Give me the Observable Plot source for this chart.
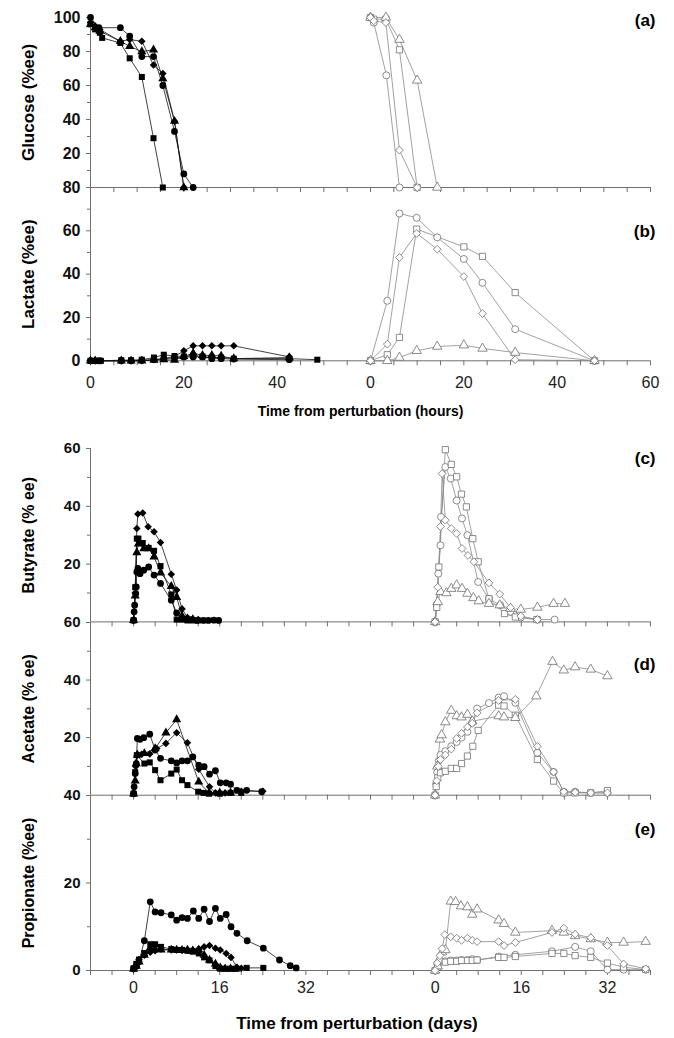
<!DOCTYPE html>
<html><head><meta charset="utf-8">
<script src="https://cdn.jsdelivr.net/npm/d3@7"></script>
<script src="https://cdn.jsdelivr.net/npm/@observablehq/plot@0.6"></script>
<style>
body{margin:0;background:#fff;}
#wrap{position:relative;width:674px;height:1038px;}
</style></head><body><div id="wrap"></div>
<script>
// ---------- DATA: [time, value] ----------
// Glucose (a), hours — left (filled) and right (open) groups
const gluL_circ = [[0,100],[1.8,94],[6.4,94],[8.4,89],[11,77],[13.5,77],[15.5,60],[18,33],[20,8],[22,0]];
const gluL_sq   = [[0,96],[1,93],[2,91],[2.5,88],[6.4,85],[8.4,76],[11,65],[13.5,29],[15.5,0]];
const gluL_tri  = [[0,96],[1,94],[2,92],[6.4,86],[8.4,83],[11,80],[13.5,81],[15.5,64],[18,39],[20,0]];
const gluL_dia  = [[0,97],[1,95],[2,93],[6.4,86],[8.4,87],[11,86],[13.5,72],[15.5,67],[18,39],[20,0]];
const gluR_circ = [[0,100],[0.7,97],[3.4,66],[6.2,0]];
const gluR_sq   = [[0,100],[0.7,99],[3.3,99],[6.2,81],[10,0]];
const gluR_tri  = [[0,100],[3.3,100],[6.2,87],[10,63],[14.3,0]];
const gluR_dia  = [[0,100],[0.7,98],[3.3,97],[6.2,22],[10,0]];
// Lactate (b), hours
const lacL_circ = [[0,0],[1,0],[1.8,0],[2.2,0],[6.6,0],[8.7,0],[11,0.3],[13.6,0.5],[15.7,1],[18,1.3],[20,1.8],[22,1.8],[24,1.8],[26,1],[28,1],[30.7,0.8],[42.6,0.5]];
const lacL_sq   = [[0,0],[1,0],[1.8,0],[2.2,0],[6.6,0.3],[8.7,0.3],[11,0.5],[13.6,1.5],[15.7,2.8],[18,2.2],[20,2],[22,2.3],[24,2],[26,1.5],[28,1.5],[30.7,1],[42.6,1],[48.6,0.5]];
const lacL_tri  = [[0,0],[1,0],[6.6,0],[8.7,0],[11,0],[13.6,0.3],[15.7,0.5],[18,0.3],[20,2],[22,3.5],[24,2.5],[26,2.5],[28,2.2],[30.7,1],[42.6,1.5]];
const lacL_dia  = [[0,0],[1,0],[6.6,0],[8.7,0],[11,0],[13.6,0.5],[15.7,1],[18,2],[20,4.6],[22,6.9],[24,6.9],[26,6.9],[28,6.9],[30.7,6.9],[42.6,1.8]];
const lacR_circ = [[0,0],[3.6,27.7],[6.2,68],[9.9,66],[14.3,57],[20,47],[24,36],[31,14.6],[48,0]];
const lacR_sq   = [[0,0],[3.6,2.8],[6.2,10.8],[9.9,60.8],[20,52.6],[24,48.2],[31,31.5],[48,0]];
const lacR_tri  = [[0,0],[3.6,0],[6.2,1.5],[9.9,4.6],[14.3,6.6],[20,7.2],[24,5.7],[31,3.8],[48,0]];
const lacR_dia  = [[0,0],[3.6,7.7],[6.2,47.7],[9.9,58.8],[14.3,51.5],[20,38.9],[24,21.8],[31,0.5],[48,0]];
// Butyrate (c), days
const butL_circ = [[0,0.6],[0.1,3.5],[0.2,5.8],[0.4,9.8],[0.5,12.1],[0.6,17.3],[0.8,18.5],[1.2,16.7],[1.9,17.9],[2.8,19],[3.8,16.2],[5,13.3],[7,7.5],[8,3.1],[9,1.2],[9.9,0.8],[10.8,0.8],[11.8,0.5],[13,0.5],[13.9,0.5],[14.9,0.6],[15.8,0.5]];
const butL_sq   = [[0,0.5],[0.3,12],[0.6,28.8],[0.9,28.8],[1.7,27.3],[2.8,25.6],[3.8,24.6],[5,19.3],[7,9.5],[8,0.8],[9,0.8],[10,0.5],[11,0.5],[12,0.5]];
const butL_tri  = [[0,0.5],[0.3,9],[0.6,24],[0.9,27],[1.9,25.4],[2.8,25.4],[3.8,22.5],[5,17],[7,12.3],[8,8.5],[9,2],[10,1],[11,0.8]];
const butL_dia  = [[0,0.5],[0.3,10],[0.6,32.3],[0.8,37.3],[1.7,37.7],[2.7,32.9],[3.8,31.2],[5,27.5],[7,16.5],[8,11],[9,4.5],[10,1.5],[11,1],[12,0.8]];
const butR_circ = [[0,0],[0.3,6],[0.6,16.7],[1,26.5],[1.1,36.3],[1.9,53.6],[2.9,49.6],[4,42],[5,35.8],[6,30],[8,13.8],[10,8],[12.1,5.8],[14,3.5],[15.9,1.5],[19,0.8],[22.2,0.8]];
const butR_sq   = [[0,0],[0.3,5],[0.7,19],[1.9,59.6],[3,54.5],[4,50.2],[4.9,44.2],[5.8,39.8],[7,28.8],[8,20.8],[10,8],[12.9,2.9],[14.9,1.7],[18.9,0.8]];
const butR_tri  = [[0,0],[0.5,6.9],[1,10.4],[2.1,10],[3,11.5],[4,12.7],[5,11.5],[6,9.8],[7.1,8.3],[8.1,7.2],[10,6.3],[12,5.8],[14,4.6],[15.9,4.3],[19,5],[22,6.3],[24.1,6.3]];
const butR_dia  = [[0,0],[0.5,12],[1,33],[1.3,51.3],[1.9,35.2],[3,32.3],[4,30.6],[5,25.4],[6.1,23],[7.2,20.8],[10,13.5],[12,9.6],[14,5],[15.9,2],[19,0.8]];
// Acetate (d), days
const aceL_circ = [[0,0.6],[0.1,2.9],[0.3,7.5],[0.5,11],[0.7,19.7],[1.2,19.4],[1.9,20],[3,21.2],[4,15.7],[5,12.8],[7,11.9],[8,11.2],[9,11.9],[10,11.9],[11,13.3],[12.1,10.4],[13.1,9.9],[14.1,7.3],[15.2,8.5],[16.1,4.3],[17.2,4.3],[18,3.8],[19.2,1.7],[21,1.7],[23.8,1.2]];
const aceL_sq   = [[0,0.5],[0.3,8],[0.6,13.9],[2,11],[3,11.4],[4,8.7],[5,5.2],[7,7.5],[8,8.9],[9,5.2],[10,3.5],[12,1.2],[13,0.8],[14,0.5],[16,0.5],[18,0.8],[20,0.8]];
const aceL_tri  = [[0,0.5],[0.3,5],[0.5,11],[0.7,14],[2,14.5],[4,16.2],[6,21.7],[8,26.3],[12.1,4.6],[14,0.8],[16,0.8],[18,0.8]];
const aceL_dia  = [[0,0.5],[0.4,10],[0.7,14],[1.5,14.2],[3,14.3],[4.3,16.2],[6,18],[8,21.7],[10,18.2],[12.1,9],[14.1,2.9],[15.2,0.8],[17,0.8],[20,1.4],[24,1.4]];
const aceR_circ = [[0,0],[0.2,4],[0.4,8],[0.7,12],[1,14],[1.9,15.3],[3,17],[4,18.5],[4.9,20],[6,22],[6.9,25.2],[7.8,30.1],[10,32],[11.8,33.9],[12.8,34.4],[14.9,32.1],[19,14.7],[22,8.1],[23.9,1.2],[26,1.2],[28.9,0.8],[32,0.8]];
const aceR_sq   = [[0,0],[0.2,3],[0.5,6],[1,7.8],[1.9,8.3],[3,9.3],[4,9.3],[4.9,11],[6,13.6],[7,17],[8,22.5],[11.8,31.3],[12.8,31],[14.9,27.8],[19,12.4],[22,4.9],[23.9,0.8],[26,0.8],[28.9,0.8],[32,1.6]];
const aceR_tri  = [[0,0],[0.4,10],[0.9,19.4],[1.2,20.9],[1.9,25.4],[3,29.4],[4,27.5],[4.9,27.1],[6,28],[6.9,25.7],[11.8,27.5],[12.8,27.1],[14.9,26.9],[18.8,34.4],[21.8,46.4],[23.9,43.4],[26,44.5],[28.9,43.7],[32,41.4]];
const aceR_dia  = [[0,0],[0.3,5],[0.6,10],[1,12.4],[1.9,14],[3,16],[4,19.7],[4.9,21.5],[6,23.7],[6.9,25],[7.8,28.6],[11.8,32.9],[14.9,33.3],[19,17],[22,8.1],[23.9,1.2],[26,1],[28.9,0.8],[32,0.8]];
// Propionate (e), days
const proL_circ = [[0,0.5],[0.5,1],[1,2],[2,6.8],[3.1,15.7],[4,13.4],[5.1,13.2],[7,12.7],[8,11.5],[9,12.1],[10,11.9],[11.1,13.6],[12.1,11.9],[13.1,14],[14.1,11.2],[15.2,14.2],[16.1,11.9],[17.2,12.8],[18.1,10],[19.2,8.5],[21.1,6.8],[24.1,5.1],[27.1,2.4],[29.1,1.1],[30.2,0.6]];
const proL_sq   = [[0,0.5],[0.5,1.5],[1,2.5],[2,4],[3.1,6],[4,6],[5.1,5.4],[7,4.9],[8,4.7],[9,4.7],[10,4.5],[11,4.3],[12.1,3.9],[13.1,3],[14.1,2.3],[15.2,1],[16.1,0.4],[17,0.4],[18,0.4],[19,0.4],[21,0.6],[24.1,0.6]];
const proL_tri  = [[0,0.3],[0.5,1],[1,2],[2,3.5],[3.1,5.1],[4,4.9],[5.1,4.7],[7,4.7],[8,4.7],[9,4.6],[10,4.7],[11,4.5],[12.1,4.7],[13.1,3.5],[14.1,2.4],[15.2,1.5],[16.1,0.6],[17,0.4],[18,0.4],[19,0.4]];
const proL_dia  = [[0,0.3],[0.5,1],[1,2.5],[2,3.5],[3.1,4.2],[4,4.5],[5.1,4.9],[7,4.7],[8,4.7],[9,4.6],[10,4.7],[11,4.7],[12.1,4.9],[13.1,5.4],[14.1,5.7],[15.2,5.1],[16.1,4.7],[17.2,3.9],[18.1,3],[19.2,0.75],[20,0.5]];
const proR_circ = [[0,0],[0.4,1.5],[0.8,2.3],[1.9,2.1],[2.9,2.3],[4,2.3],[4.9,2.4],[6,2.4],[6.9,2.6],[7.8,2.4],[11.8,3.2],[14.9,3.6],[21.7,4.4],[26,5.4],[28.9,4.4],[32,0.2],[35,0.2],[39.1,0.2]];
const proR_sq   = [[0,0],[0.5,0.8],[1.9,1.9],[2.9,2.1],[4,2.1],[4.9,2.3],[6,2.3],[6.9,2.3],[7.8,2.4],[11.8,3],[12.8,3],[14.9,3.2],[21.7,3.9],[23.9,3.9],[26,3.4],[28.9,3],[32,1.7],[35,0.75],[39.1,0.2]];
const proR_tri  = [[0,0],[0.5,1],[1.3,4.2],[1.9,4.7],[2.9,15.8],[3.8,15.7],[4.8,14.7],[6,14.5],[6.9,12.8],[7.8,14],[11.8,11.5],[12.8,10.7],[14.9,8.7],[21.7,9.1],[23.9,8.7],[26,7.9],[28.9,7.2],[32,6.4],[35,6.4],[39.1,6.6]];
const proR_dia  = [[0,0],[0.4,1.7],[0.9,3.4],[1.3,5],[1.8,8.2],[2.9,7.7],[4,7.4],[4.9,6.9],[6,7.4],[6.9,6.9],[7.8,6.6],[11.8,6.6],[12.8,5.7],[14.9,6.4],[21.7,8.7],[23.9,9.7],[26,8.3],[28.9,7.5],[32,5.7],[35,1.5],[39.1,0.4]];

// Tick labels
const hourLabelTicks = [0,20,40,60,80,100,120];   // right group starts at 60 h
const dayLabelTicks  = [0,16,32,56,72,88];        // right group starts at 56 d
const hourOffset = 60, dayOffset = 56;

// ---------- DRAWING ----------
const FONT = "'Liberation Sans', Arial, Helvetica, sans-serif";
const AX = "#707070";
const symbolScale = {domain:["circ","sq","tri","dia"], range:["circle","square","triangle","diamond2"]};
function rows(series, offset) {
  const out = [];
  for (const [s, pts] of Object.entries(series)) for (const [t, v] of pts) out.push({s, t: t + offset, v});
  return out;
}
const wrap = document.getElementById("wrap");

function panel(o) {
  const mt = 20, mb = o.mb || 20;
  const L = rows(o.left, 0), R = rows(o.right, o.offset);
  const hours = o.kind === "hours";
  const xdom = hours ? [0,120] : [-8,96];
  const minorX = hours ? d3.range(0,121,5) : d3.range(-8,97,4);
  const marks = [
    Plot.ruleX([xdom[0]], {stroke: AX, strokeWidth: 1}),
    Plot.axisY({ticks: o.minorY, tickSize: 3, tickFormat: () => "", stroke: AX, label: null}),
    Plot.axisY({ticks: o.majorY, tickSize: 4, tickPadding: 6, stroke: AX, fontSize: o.yFont, fontWeight: "bold", fill: "#111",
      tickFormat: d => String(d), label: null}),
    Plot.axisX({ticks: minorX, tickSize: 5, tickFormat: () => "", stroke: AX, anchor: "bottom", label: null}),
    Plot.ruleY([0], {stroke: AX, strokeWidth: 1}),
    Plot.line(R, {x: "t", y: "v", z: "s", stroke: "#8a8a8a", strokeWidth: 0.8}),
    Plot.dot(R, {x: "t", y: "v", symbol: "s", r: 3.5, stroke: "#707070", strokeWidth: 0.8, fill: "white"}),
    Plot.line(L, {x: "t", y: "v", z: "s", stroke: "#111", strokeWidth: 0.8}),
    Plot.dot(L, {x: "t", y: "v", symbol: "s", r: 3.4, fill: "#000", stroke: "none"}),
    Plot.text([o.tag], {frameAnchor: "top-right", textAnchor: "end", lineAnchor: "middle", dx: 5, dy: o.tagDy,
      fontSize: 17, fontWeight: "bold", fill: "#000"}),
    Plot.text([o.title], {frameAnchor: "left", textAnchor: "middle", lineAnchor: "middle", rotate: -90, dx: -62,
      fontSize: o.titleFont, fontWeight: "bold", fill: "#000"})
  ];
  if (o.xLabels) {
    const off = hours ? hourOffset : dayOffset;
    marks.push(Plot.axisX({ticks: hours ? hourLabelTicks : dayLabelTicks, tickSize: 0, tickPadding: o.xPad, anchor: "bottom",
      fontSize: 16, fill: "#222", label: null, tickFormat: d => String(d >= off ? d - off : d)}));
    marks.push(Plot.text([o.xTitle], {frameAnchor: "bottom", lineAnchor: "middle", dx: o.xTitleDx, dy: o.xTitleDy,
      fontSize: o.xTitleFont, fontWeight: "bold", fill: "#000"}));
  }
  const svg = Plot.plot({
    width: 674, height: (o.yBot - o.yTop) + mt + mb,
    marginLeft: 90, marginRight: 24, marginTop: mt, marginBottom: mb,
    x: {domain: xdom, label: null},
    y: {domain: [0, o.ymax], label: null},
    symbol: symbolScale,
    style: {fontFamily: FONT, background: "transparent", overflow: "visible"},
    marks
  });
  svg.style.position = "absolute";
  svg.style.left = "0px";
  svg.style.top = (o.yTop - mt) + "px";
  svg.style.background = "transparent";
  svg.style.overflow = "visible";
  wrap.appendChild(svg);
}

panel({kind: "hours", offset: hourOffset, yTop: 16.7, yBot: 186.7, ymax: 100,
  majorY: [20,40,60,80,100], minorY: [10,30,50,70,90], yFont: 16, titleFont: 17,
  title: "Glucose (%ee)", tag: "(a)", tagDy: 3.5,
  left: {circ: gluL_circ, sq: gluL_sq, tri: gluL_tri, dia: gluL_dia},
  right: {circ: gluR_circ, sq: gluR_sq, tri: gluR_tri, dia: gluR_dia}});
panel({kind: "hours", offset: hourOffset, yTop: 186.7, yBot: 360, ymax: 80, mb: 70,
  majorY: [0,20,40,60,80], minorY: [10,30,50,70], yFont: 16, titleFont: 17,
  title: "Lactate (%ee)", tag: "(b)", tagDy: 44,
  xLabels: true, xPad: 16, xTitle: "Time from perturbation (hours)", xTitleDx: -10, xTitleDy: 51, xTitleFont: 14,
  left: {circ: lacL_circ, sq: lacL_sq, tri: lacL_tri, dia: lacL_dia},
  right: {circ: lacR_circ, sq: lacR_sq, tri: lacR_tri, dia: lacR_dia}});
panel({kind: "days", offset: dayOffset, yTop: 448.3, yBot: 621.7, ymax: 60,
  majorY: [20,40,60], minorY: [10,30,50], yFont: 15, titleFont: 16,
  title: "Butyrate (% ee)", tag: "(c)", tagDy: 10,
  left: {circ: butL_circ, sq: butL_sq, tri: butL_tri, dia: butL_dia},
  right: {circ: butR_circ, sq: butR_sq, tri: butR_tri, dia: butR_dia}});
panel({kind: "days", offset: dayOffset, yTop: 622.3, yBot: 795, ymax: 60,
  majorY: [20,40,60], minorY: [10,30,50], yFont: 15, titleFont: 16,
  title: "Acetate (% ee)", tag: "(d)", tagDy: 42.5,
  left: {circ: aceL_circ, sq: aceL_sq, tri: aceL_tri, dia: aceL_dia},
  right: {circ: aceR_circ, sq: aceR_sq, tri: aceR_tri, dia: aceR_dia}});
panel({kind: "days", offset: dayOffset, yTop: 795, yBot: 970, ymax: 40, mb: 68,
  majorY: [0,20,40], minorY: [10,30], yFont: 15, titleFont: 16,
  title: "Propionate (%ee)", tag: "(e)", tagDy: 34.5,
  xLabels: true, xPad: 11, xTitle: "Time from perturbation (days)", xTitleDx: -13.5, xTitleDy: 53, xTitleFont: 17,
  left: {circ: proL_circ, sq: proL_sq, tri: proL_tri, dia: proL_dia},
  right: {circ: proR_circ, sq: proR_sq, tri: proR_tri, dia: proR_dia}});
</script></body></html>
